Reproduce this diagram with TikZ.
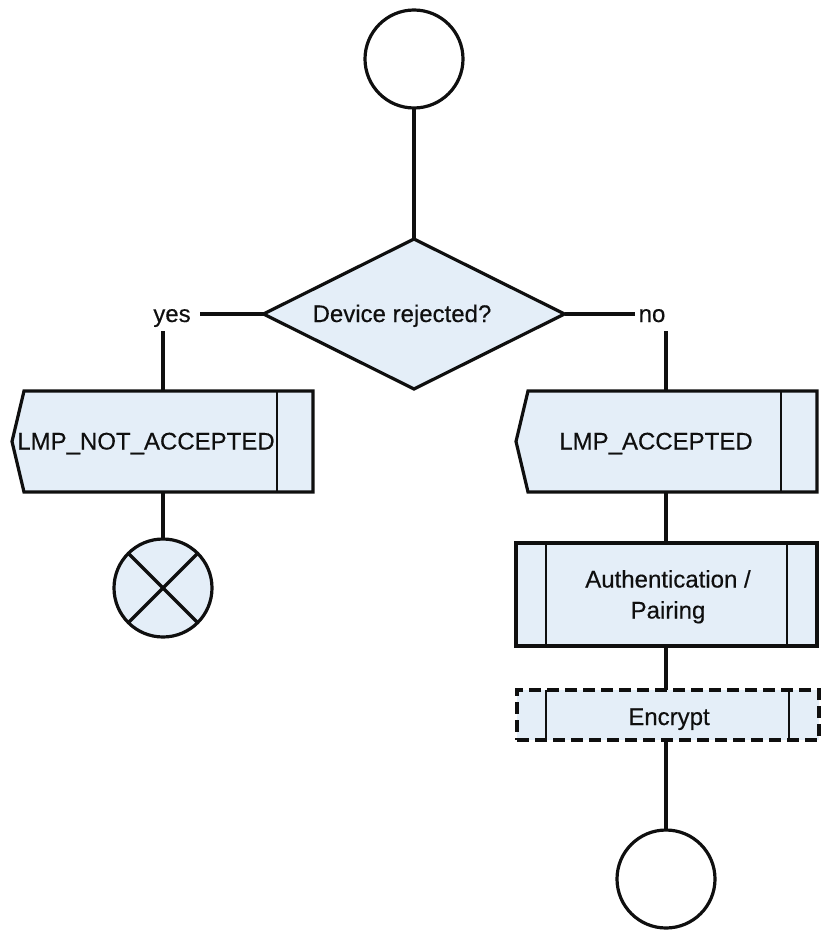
\documentclass[tikz,border=0pt]{standalone}
\usepackage{fontspec}
\setmainfont{Liberation Sans}
\newfontfamily\lblfont{Liberation Sans}[FakeBold=0.35, BoldFont={Liberation Sans}, BoldFeatures={FakeBold=0.35}]
\usetikzlibrary{shapes.geometric,calc}
\definecolor{fillc}{RGB}{228,238,248}
\definecolor{linec}{RGB}{15,15,15}
\tikzset{
  outl/.style={draw=linec, line width=3.2pt, line join=miter},
  innerl/.style={draw=linec, line width=2.4pt},
  conn/.style={draw=linec, line width=3.2pt},
  termc/.style={circle, outl, fill=white, minimum size=98pt, inner sep=0pt, outer sep=0pt},
  crossc/.style={circle, outl, fill=fillc, minimum size=98pt, inner sep=0pt, outer sep=0pt},
  decision/.style={diamond, outl, fill=fillc, minimum width=301pt, minimum height=150pt, inner sep=0pt, outer sep=0pt, aspect=2},
  frame/.style={rectangle, draw=none, inner sep=0pt, outer sep=0pt},
  txt/.style={inner sep=0pt, outer sep=0pt, anchor=base, font=\lblfont\bfseries\fontsize{24}{31}\selectfont, text=linec, align=center},
}
\begin{document}
\begin{tikzpicture}[x=1pt,y=-1pt]
\useasboundingbox (0,0) rectangle (828,936);
% start terminator
\node[termc] (start) at (414,59) {};
% decision
\node[decision] (dec) at (414,314) {};
\node[txt] (dect) at (402,322) {Device rejected?};
\node[txt] (yes) at (172,322) {yes};
\node[txt] (no) at (652,322) {no};
\coordinate (yesE) at (200,314);
\coordinate (noW) at (635,314);
\coordinate (yesB) at (163,331);
\coordinate (noB) at (666,331);
% left signal box
\node[frame, minimum width=289pt, minimum height=101pt] (rej) at (168.5,441.5) {};
\draw[outl, fill=fillc] (rej.north west) -- ($(rej.west)+(-12,0)$) -- (rej.south west) -- (rej.south east) -- (rej.north east) -- cycle;
\draw[innerl] ($(rej.north east)+(-36,0)$) -- ($(rej.south east)+(-36,0)$);
\node[txt] (rejt) at (146,449.5) {LMP\_NOT\_ACCEPTED};
% right signal box
\node[frame, minimum width=289pt, minimum height=101pt] (acc) at (672.5,441.5) {};
\draw[outl, fill=fillc] (acc.north west) -- ($(acc.west)+(-12,0)$) -- (acc.south west) -- (acc.south east) -- (acc.north east) -- cycle;
\draw[innerl] ($(acc.north east)+(-36,0)$) -- ($(acc.south east)+(-36,0)$);
\node[txt] (acct) at (656,449.5) {LMP\_ACCEPTED};
% stop (cross)
\node[crossc] (cr) at (163,588) {};
\draw[conn] (cr.north west) -- (cr.south east);
\draw[conn] (cr.north east) -- (cr.south west);
% authentication procedure
\node[rectangle, outl, fill=fillc, minimum width=301pt, minimum height=103pt, inner sep=0pt, outer sep=0pt] (auth) at (666.5,594.5) {};
\draw[innerl] ($(auth.north west)+(30,0)$) -- ($(auth.south west)+(30,0)$);
\draw[innerl] ($(auth.north east)+(-30,0)$) -- ($(auth.south east)+(-30,0)$);
\node[txt] (autht) at (668,618.5) {Authentication /\\Pairing};
% encrypt (optional, dashed)
\node[rectangle, outl, dash pattern=on 12pt off 6pt, fill=fillc, minimum width=302pt, minimum height=50pt, inner sep=0pt, outer sep=0pt] (enc) at (668,715) {};
\draw[innerl] (546,690) -- (546,740);
\draw[innerl] (789,690) -- (789,740);
\node[txt] (enct) at (669,725) {Encrypt};
% end terminator
\node[termc] (endc) at (666,879) {};
% connectors
\draw[conn] (start.south) -- (dec.north);
\draw[conn] (dec.west) -- (yesE);
\draw[conn] (dec.east) -- (noW);
\draw[conn] (yesB) -- (yesB |- rej.north);
\draw[conn] (noB) -- (noB |- acc.north);
\draw[conn] (cr.north) -- (cr.north |- rej.south);
\draw[conn] (auth.north -| noB) -- (noB |- acc.south);
\draw[conn] (auth.south -| noB) -- (noB |- enc.north);
\draw[conn] (endc.north) -- (endc.north |- enc.south);
\end{tikzpicture}
\end{document}
